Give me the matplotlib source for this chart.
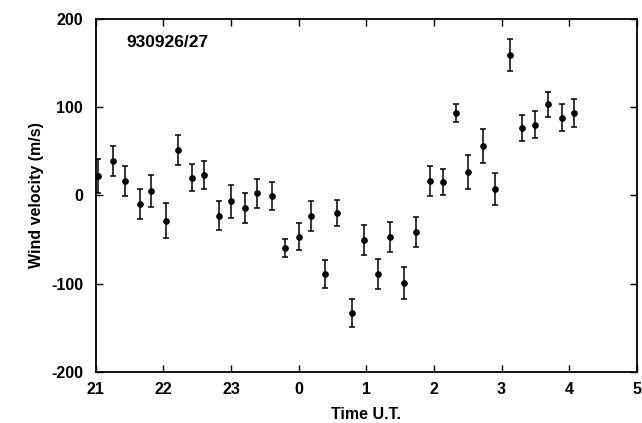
import matplotlib
matplotlib.use("Agg")
import matplotlib.pyplot as plt
import numpy as np

plt.rcParams['font.family'] = ['Liberation Sans', 'DejaVu Sans']
plt.rcParams['axes.unicode_minus'] = False

# Time in hours (continuous past midnight: 24 = 0 U.T.)
time_h = [21.04, 21.25, 21.44, 21.65, 21.82, 22.04, 22.22, 22.43, 22.60, 22.83,
          23.00, 23.21, 23.39, 23.60, 23.80, 24.01, 24.18, 24.39, 24.57, 24.79,
          24.96, 25.18, 25.35, 25.56, 25.74, 25.94, 26.13, 26.33, 26.51, 26.72,
          26.91, 27.12, 27.30, 27.50, 27.68, 27.89, 28.07]
velocity = [22, 39, 16, -10, 5, -29, 51, 20, 23, -23,
            -7, -15, 2, -1, -60, -47, -24, -89, -20, -133,
            -51, -89, -47, -99, -42, 16, 15, 93, 26, 56,
            7, 159, 76, 80, 103, 88, 93]
error = [19, 17, 17, 17, 18, 20, 17, 15, 16, 16,
         19, 17, 16, 16, 10, 15, 17, 16, 15, 16,
         17, 17, 17, 18, 17, 17, 15, 10, 19, 19,
         18, 18, 15, 15, 14, 15, 16]

xticks = [21, 22, 23, 24, 25, 26, 27, 28, 29]
xticklabels = ['21', '22', '23', '0', '1', '2', '3', '4', '5']
yticks = [-200, -100, 0, 100, 200]

fig = plt.figure(figsize=(6.42, 4.23), dpi=100)
ax = fig.add_axes([0.149, 0.121, 0.843, 0.835])

ax.errorbar(time_h, velocity, yerr=error, fmt='o', color='black',
            markersize=3.8, elinewidth=1.1, capsize=2.0, capthick=1.1)

ax.set_xlim(21, 29)
ax.set_ylim(-200, 200)
ax.set_xticks(xticks)
ax.set_xticklabels(xticklabels)
ax.set_yticks(yticks)
ax.tick_params(direction='in', top=True, right=True, length=5, width=1,
               labelsize=11.5)
ax.tick_params(axis='x', pad=7)
ax.tick_params(axis='y', pad=9)
for lab in ax.get_xticklabels() + ax.get_yticklabels():
    lab.set_fontweight('bold')
for s in ax.spines.values():
    s.set_linewidth(1.3)

ax.set_xlabel('Time U.T.', fontsize=11.5, fontweight='bold', labelpad=7.5)
ax.set_ylabel('Wind velocity (m/s)', fontsize=11.5, fontweight='bold', labelpad=5)
ax.text(0.057, 0.931, '930926/27', transform=ax.transAxes, fontsize=12.5,
        fontweight='bold', va='center', ha='left')

fig.savefig('out.png', dpi=100)
